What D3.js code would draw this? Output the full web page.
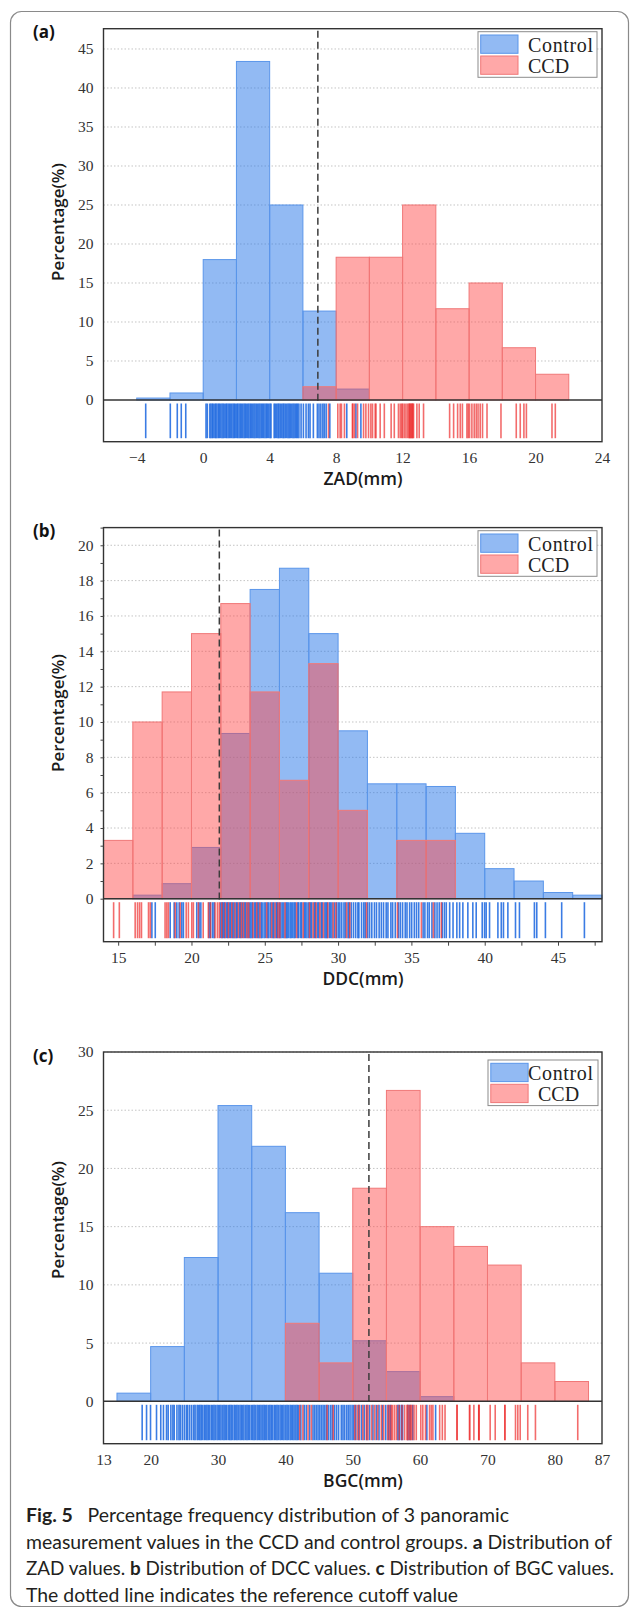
<!DOCTYPE html>
<html lang="en">
<head>
<meta charset="utf-8">
<title>Fig. 5 | d3.js</title>
<style type="text/css">
	body {
		margin: 0px;
		padding: 0px;
		background-color: white;
	}
	svg {
		display: block;
	}
	.tick text {
		font-family: 'Liberation Serif', serif;
		font-size: 15.5px;
		fill: #333;
	}
	.axisTitle {
		font-family: 'Open Sans', sans-serif;
		font-weight: 600;
		fill: #1a1a1a;
	}
	.panelLabel {
		font-family: 'Open Sans', sans-serif;
		font-weight: 700;
		font-size: 17px;
		fill: #111;
	}
	.legendText {
		font-family: 'Liberation Serif', serif;
		font-size: 20px;
		fill: #222;
	}
	.caption {
		font-family: 'Lato', sans-serif;
		fill: #231f20;
	}
</style>
</head>
<body>
<div id="chart"></div>
<script src="https://d3js.org/d3.v7.min.js"></script>
<script type="text/javascript">

// (a) ZAD
const zadEdges = [-4, -2, 0, 2, 4, 6, 8, 10, 12, 14, 16, 18, 20, 22];
const zadControl = [0.25, 0.9, 18.0, 43.4, 25.0, 11.4, 1.4, 0, 0, 0, 0, 0, 0];
const zadCCD = [0, 0, 0, 0, 0, 1.7, 18.3, 18.3, 25.0, 11.7, 15.0, 6.7, 3.3];
const zadCutoff = 6.9;
const zadXTicks = [-4, 0, 4, 8, 12, 16, 20, 24];
const zadYTicks = [0, 5, 10, 15, 20, 25, 30, 35, 40, 45];
const zadRugControl = [-3.46, -1.98, -1.56, -1.32, -1.05,
	0.17, 0.25, 0.4, 0.47, 0.55, 0.6, 0.7, 0.76, 0.83, 0.92, 0.97, 1.05, 1.13, 1.2, 1.27, 1.36, 1.42,
	1.5, 1.58, 1.64, 1.72, 1.8, 1.87, 1.93, 2.02, 2.08, 2.16, 2.24, 2.3, 2.38, 2.46, 2.53, 2.6, 2.68,
	2.75, 2.83, 2.9, 2.97, 3.05, 3.12, 3.2, 3.27, 3.35, 3.42, 3.5, 3.57, 3.64, 3.72, 3.8, 3.86, 3.94,
	4.02, 4.08, 4.27, 4.34, 4.42, 4.5, 4.56, 4.64, 4.72, 4.8, 4.86, 4.94, 5.02, 5.1, 5.17, 5.24, 5.32,
	5.4, 5.47, 5.55, 5.62, 5.68, 5.76, 5.89, 6.03, 6.19, 6.33, 6.43, 6.63, 6.87, 6.97, 7.08, 7.2,
	7.29, 7.4, 7.62, 8.64, 9.19, 9.49];
const zadRugCCD = [7.54, 8.1, 8.24, 8.32, 8.5, 8.98, 9.0, 9.1, 9.29, 9.65, 9.79, 9.95, 10.09, 10.19,
	10.35, 10.4, 10.65, 10.9, 11.31, 11.5, 11.75, 11.86, 11.95, 12.0, 12.1, 12.2, 12.3, 12.38, 12.42,
	12.45, 12.5, 12.55, 12.58, 12.62, 12.66, 12.86, 13.0, 13.26, 14.83, 15.07, 15.31, 15.47, 15.6,
	15.87, 15.95, 16.03, 16.17, 16.31, 16.43, 16.54, 16.67, 16.81, 17.08, 17.92, 18.84, 19.08, 19.3,
	19.45, 20.99, 21.19];

// (b) DDC
const ddcEdges = [14, 16, 18, 20, 22, 24, 26, 28, 30, 32, 34, 36, 38, 40, 42, 44, 46, 48];
const ddcControl = [0, 0.2, 0.85, 2.9, 9.35, 17.5, 18.7, 15.0, 9.5, 6.5, 6.5, 6.35, 3.7, 1.7, 1.0, 0.35, 0.2];
const ddcCCD = [3.3, 10.0, 11.7, 15.0, 16.7, 11.7, 6.7, 13.3, 5.0, 0, 3.3, 3.3, 0, 0, 0, 0, 0];
const ddcCutoff = 21.9;
const ddcXTicks = [15, 20, 25, 30, 35, 40, 45];
const ddcYTicks = [0, 2, 4, 6, 8, 10, 12, 14, 16, 18, 20];
const ddcRugControl = [17.3, 17.53, 18.55, 18.82, 19.0, 19.16, 19.34, 19.45, 20.36, 20.52, 20.64,
	21.2, 21.3, 21.45, 21.55, 21.98, 22.1, 22.18, 22.26, 22.4, 22.47, 22.6, 22.68, 22.82, 22.9, 23.05,
	23.12, 23.28, 23.35, 23.48, 23.62, 23.7, 23.85, 23.98, 24.06, 24.15, 24.3, 24.38, 24.52, 24.6,
	24.75, 24.82, 24.95, 25.05, 25.2, 25.28, 25.4, 25.55, 25.62, 25.78, 25.85, 25.98, 26.1, 26.2, 26.3,
	26.45, 26.52, 26.6, 26.72, 26.8, 26.9, 27.0, 27.08, 27.25, 27.32, 27.45, 27.52, 27.7, 27.78, 27.88,
	28.0, 28.12, 28.2, 28.38, 28.45, 28.6, 28.68, 28.85, 28.92, 29.1, 29.18, 29.25, 29.4, 29.48, 29.58,
	29.75, 29.9, 30.02, 30.12, 30.25, 30.4, 30.5, 30.68, 30.75, 30.9, 31.05, 31.2, 31.35, 31.42, 31.6,
	31.75, 31.85, 32.02, 32.15, 32.3, 32.48, 32.62, 32.8, 32.95, 33.1, 33.28, 33.4, 33.6, 33.72, 33.9,
	34.12, 34.25, 34.4, 34.58, 34.7, 34.88, 35.02, 35.2, 35.35, 35.5, 35.8, 35.92, 36.1, 36.22, 36.4,
	36.6, 36.75, 36.9, 37.1, 37.25, 37.38, 37.61, 37.84, 38.1, 38.29, 38.51, 38.85, 39.19, 39.42,
	39.83, 39.99, 40.1, 40.33, 40.9, 41.13, 41.28, 41.58, 42.1, 42.37, 43.39, 43.55, 44.14, 45.25, 46.8];
const ddcRugCCD = [14.69, 15.08, 16.16, 16.32, 16.46, 16.59, 17.07, 17.19, 18.2, 18.32, 18.43, 18.89,
	19.23, 19.64, 19.79, 20.02, 20.13, 20.47, 20.8, 21.15, 21.3, 21.61, 21.77, 21.9, 22.07, 22.3, 22.52,
	22.75, 22.97, 23.2, 23.4, 23.55, 23.77, 23.9, 24.2, 24.45, 24.67, 25.13, 25.47, 25.7, 25.9, 26.03,
	26.38, 27.17, 27.62, 28.05, 28.3, 28.5, 28.76, 29.0, 29.3, 29.66, 29.85, 30.58, 30.8, 31.94, 34.05,
	35.68, 36.5, 37.04];

// (c) BGC
const bgcEdges = [15, 20, 25, 30, 35, 40, 45, 50, 55, 60, 65, 70, 75, 80, 85];
const bgcControl = [0.7, 4.7, 12.35, 25.4, 21.9, 16.2, 11.0, 5.2, 2.55, 0.4, 0, 0, 0, 0];
const bgcCCD = [0, 0, 0, 0, 0, 6.7, 3.3, 18.3, 26.7, 15.0, 13.3, 11.7, 3.3, 1.7];
const bgcCutoff = 52.4;
const bgcXTicks = [13, 20, 30, 40, 50, 60, 70, 80, 87];
const bgcYTicks = [0, 5, 10, 15, 20, 25, 30];
const bgcRugControl = [18.74, 19.39, 19.98, 20.87, 21.5, 21.9, 22.35, 22.6, 23.0, 23.3, 23.5, 23.9,
	24.2, 24.4, 24.7, 25.0, 25.3, 25.5, 25.8, 26.1, 26.4, 26.6, 26.9, 27.1, 27.3, 27.5, 27.7, 27.95,
	28.15, 28.35, 28.55, 28.75, 29.0, 29.2, 29.4, 29.6, 29.85, 30.05, 30.25, 30.45, 30.7, 30.9, 31.1,
	31.3, 31.55, 31.75, 31.95, 32.15, 32.4, 32.6, 32.8, 33.0, 33.25, 33.45, 33.65, 33.85, 34.1, 34.3,
	34.5, 34.7, 34.95, 35.15, 35.35, 35.55, 35.8, 36.0, 36.2, 36.4, 36.65, 36.85, 37.05, 37.25, 37.5,
	37.7, 37.9, 38.1, 38.35, 38.55, 38.75, 38.95, 39.2, 39.4, 39.6, 39.8, 40.05, 40.25, 40.45, 40.7,
	40.9, 41.1, 41.3, 41.55, 41.75, 41.95, 42.3, 42.8, 43.1, 43.6, 44.1, 44.35, 44.6, 44.85, 45.1,
	45.35, 45.6, 45.85, 46.1, 46.4, 46.7, 46.95, 47.3, 47.6, 47.9, 48.3, 48.55, 48.8, 49.1, 49.35,
	49.6, 49.9, 50.15, 50.45, 50.9, 51.3, 51.7, 52.1, 52.5, 53.0, 53.5, 53.9, 54.4, 54.9, 55.3, 55.6,
	56.7, 56.9, 57.2, 57.4, 58.2, 58.5, 58.9, 61.0, 62.3];
const bgcRugCCD = [42.13, 42.6, 43.36, 43.86, 46.2, 47.1, 50.3, 50.7, 51.0, 51.5, 52.0, 52.26, 52.8,
	53.25, 53.7, 54.24, 54.6, 55.2, 55.47, 55.72, 55.9, 56.2, 56.5, 56.9, 57.3, 57.7, 58.04, 58.2,
	58.44, 58.6, 58.78, 59.1, 59.43, 60.1, 60.4, 60.8, 61.4, 61.66, 61.9, 62.9, 63.3, 63.7, 65.46,
	65.5, 67.34, 67.36, 67.98, 68.7, 68.72, 68.75, 70.4, 71.15, 72.57, 72.6, 74.16, 74.5, 74.86, 75.98,
	77.12, 83.4];

const seriesNames = ["Control", "CCD"];

const width = 630,
	height = 1609,
	left = 103.5,
	right = 602;

const blueFill = "rgba(38,118,232,0.5)",
	blueEdge = "#5b96ea",
	redFill = "rgba(255,70,70,0.47)",
	redEdge = "#f07878",
	blueRug = "#1966e0",
	redRug = "#ee2f2f";

const svg = d3.select("#chart")
	.append("svg")
	.attr("width", width)
	.attr("height", height);

// card outline
svg.append("rect")
	.attr("x", 10.5)
	.attr("y", 11.5)
	.attr("width", 618)
	.attr("height", 1595)
	.attr("rx", 11)
	.style("fill", "none")
	.style("stroke", "#8a8a8a")
	.style("stroke-width", 1.2);

const panels = [
	{label: "(a)", title: "ZAD(mm)", edges: zadEdges, control: zadControl, ccd: zadCCD, cutoff: zadCutoff,
		xTicks: zadXTicks, yTicks: zadYTicks, rugControl: zadRugControl, rugCCD: zadRugCCD,
		xDomain: [-6, 24], yMax: 47.6, top: 28.7, base: 400, bottom: 441.7, ylabelY: 222,
		legend: {x: 478, y: 31.7, w: 119, patchX: 480.7, textX: 528, ccdX: 528}},
	{label: "(b)", title: "DDC(mm)", edges: ddcEdges, control: ddcControl, ccd: ddcCCD, cutoff: ddcCutoff,
		xTicks: ddcXTicks, yTicks: ddcYTicks, rugControl: ddcRugControl, rugCCD: ddcRugCCD,
		xDomain: [14, 48], yMax: 21, top: 527.6, base: 898.7, bottom: 941.7, ylabelY: 713, minor: true,
		legend: {x: 478, y: 530.7, w: 119, patchX: 480.7, textX: 528, ccdX: 528}},
	{label: "(c)", title: "BGC(mm)", edges: bgcEdges, control: bgcControl, ccd: bgcCCD, cutoff: bgcCutoff,
		xTicks: bgcXTicks, yTicks: bgcYTicks, rugControl: bgcRugControl, rugCCD: bgcRugCCD,
		xDomain: [13, 87], yMax: 30, top: 1052, base: 1401.3, bottom: 1443.7, ylabelY: 1220,
		legend: {x: 488, y: 1060, w: 110, patchX: 490.8, textX: 528, ccdX: 538}}
];

panels.forEach(drawPanel);

drawCaption();

function drawPanel(p){

	const xScale = d3.scaleLinear()
		.domain(p.xDomain)
		.range([left, right]);

	const yScale = d3.scaleLinear()
		.domain([0, p.yMax])
		.range([p.base, p.top]);

	const g = svg.append("g");

	// dotted grid
	g.selectAll(null)
		.data(p.yTicks.filter(function(d){ return d > 0; }))
		.enter()
		.append("line")
		.attr("x1", left)
		.attr("x2", right)
		.attr("y1", function(d){ return yScale(d); })
		.attr("y2", function(d){ return yScale(d); })
		.style("stroke", "#c4c4c4")
		.style("stroke-width", 1)
		.style("stroke-dasharray", "1.5,2");

	const bins = p.edges.slice(0, -1).map(function(e, i){
		return {x0: e, x1: p.edges[i + 1], control: p.control[i], ccd: p.ccd[i]};
	});

	[["control", blueFill, blueEdge], ["ccd", redFill, redEdge]].forEach(function(s){
		g.selectAll(null)
			.data(bins.filter(function(d){ return d[s[0]] > 0; }))
			.enter()
			.append("rect")
			.attr("x", function(d){ return xScale(d.x0); })
			.attr("width", function(d){ return xScale(d.x1) - xScale(d.x0); })
			.attr("y", function(d){ return yScale(d[s[0]]); })
			.attr("height", function(d){ return p.base - yScale(d[s[0]]); })
			.style("fill", s[1])
			.style("stroke", s[2])
			.style("stroke-width", 1);
	});

	// rug
	[[p.rugControl, blueRug, 0.85], [p.rugCCD, redRug, 0.7]].forEach(function(s){
		g.selectAll(null)
			.data(s[0])
			.enter()
			.append("line")
			.attr("x1", function(d){ return xScale(d); })
			.attr("x2", function(d){ return xScale(d); })
			.attr("y1", p.base + 3.5)
			.attr("y2", p.bottom - 3.5)
			.style("stroke", s[1])
			.style("stroke-width", 1.6)
			.style("opacity", s[2]);
	});

	// cutoff
	g.append("line")
		.attr("x1", xScale(p.cutoff))
		.attr("x2", xScale(p.cutoff))
		.attr("y1", p.top + 2)
		.attr("y2", p.base + 1)
		.style("stroke", "#3c3c3c")
		.style("stroke-width", 1.5)
		.style("stroke-dasharray", "7,4");

	// frame and split line
	g.append("rect")
		.attr("x", left)
		.attr("y", p.top)
		.attr("width", right - left)
		.attr("height", p.bottom - p.top)
		.style("fill", "none")
		.style("stroke", "#333")
		.style("stroke-width", 1.4);

	g.append("line")
		.attr("x1", left)
		.attr("x2", right)
		.attr("y1", p.base)
		.attr("y2", p.base)
		.style("stroke", "#333")
		.style("stroke-width", 1.4);

	// axes
	const yAxis = d3.axisLeft(yScale)
		.tickValues(p.yTicks)
		.tickSize(0)
		.tickPadding(10);

	const gY = g.append("g")
		.attr("transform", "translate(" + left + ",0)")
		.call(yAxis);
	gY.select(".domain").remove();

	const xAxis = d3.axisBottom(xScale)
		.tickValues(p.xTicks)
		.tickSize(0)
		.tickPadding(10);

	const gX = g.append("g")
		.attr("transform", "translate(0," + p.bottom + ")")
		.call(xAxis);
	gX.select(".domain").remove();
	gX.selectAll(".tick text").text(function(d){ return d < 0 ? "\u2212" + Math.abs(d) : d; });

	if (p.minor) {
		const mx = g.append("g")
			.attr("transform", "translate(0," + p.bottom + ")")
			.call(d3.axisBottom(xScale).tickValues(d3.range(15, 48, 2.5)).tickSize(4).tickFormat(""));
		mx.select(".domain").remove();
		mx.selectAll("line").style("stroke", "#444");
		const my = g.append("g")
			.attr("transform", "translate(" + left + ",0)")
			.call(d3.axisLeft(yScale).tickValues(d3.range(0, 22, 1)).tickSize(3).tickFormat(""));
		my.select(".domain").remove();
		my.selectAll("line").style("stroke", "#444");
	}

	// titles
	g.append("text")
		.attr("class", "axisTitle")
		.attr("x", 363)
		.attr("y", p.bottom + 36)
		.attr("text-anchor", "middle")
		.attr("dominant-baseline", "central")
		.style("font-size", "17.5px")
		.text(p.title);

	g.append("text")
		.attr("class", "axisTitle")
		.attr("transform", "translate(57," + p.ylabelY + ") rotate(-90)")
		.attr("text-anchor", "middle")
		.attr("dominant-baseline", "central")
		.style("font-size", "17px")
		.text("Percentage(%)");

	g.append("text")
		.attr("class", "panelLabel")
		.attr("x", 33)
		.attr("y", p.top + 3)
		.attr("dominant-baseline", "central")
		.text(p.label);

	// legend
	const L = p.legend;
	g.append("rect")
		.attr("x", L.x)
		.attr("y", L.y)
		.attr("width", L.w)
		.attr("height", 45.6)
		.style("fill", "white")
		.style("stroke", "#8c8c8c")
		.style("stroke-width", 1);

	[[blueFill, blueEdge], [redFill, redEdge]].forEach(function(c, i){
		const py = L.y + 3.3 + i * 21;
		g.append("rect")
			.attr("x", L.patchX)
			.attr("y", py)
			.attr("width", 37.3)
			.attr("height", 18.3)
			.style("fill", c[0])
			.style("stroke", c[1]);
		g.append("text")
			.attr("class", "legendText")
			.attr("x", i === 0 ? L.textX : L.ccdX)
			.attr("y", py + 9.5)
			.attr("dominant-baseline", "central")
			.attr("textLength", i === 0 ? 65 : null)
			.attr("lengthAdjust", "spacing")
			.text(seriesNames[i]);
	});
}

function drawCaption(){

	const lines = [
		[["Fig. 5", true], ["\u2002 Percentage frequency distribution of 3 panoramic", false]],
		[["measurement values in the CCD and control groups. ", false], ["a", true], [" Distribution of", false]],
		[["ZAD values. ", false], ["b", true], [" Distribution of DCC values. ", false], ["c", true], [" Distribution of BGC values.", false]],
		[["The dotted line indicates the reference cutoff value", false]]
	];
	const lineWidths = [483, 586, 588, 432];

	const texts = svg.selectAll(null)
		.data(lines)
		.enter()
		.append("text")
		.attr("class", "caption")
		.attr("x", 26)
		.attr("y", function(_, i){ return 1522 + i * 26.6; })
		.style("font-size", "20px");

	texts.selectAll("tspan")
		.data(function(d){ return d; })
		.enter()
		.append("tspan")
		.style("font-weight", function(d){ return d[1] ? 700 : 400; })
		.text(function(d){ return d[0]; });

	// size from the longest line, then pin every line to its printed width
	const w2 = texts.nodes()[1].getComputedTextLength();
	texts.style("font-size", (20 * 586 / w2) + "px")
		.attr("textLength", function(_, i){ return lineWidths[i]; })
		.attr("lengthAdjust", "spacingAndGlyphs");
}

</script>
